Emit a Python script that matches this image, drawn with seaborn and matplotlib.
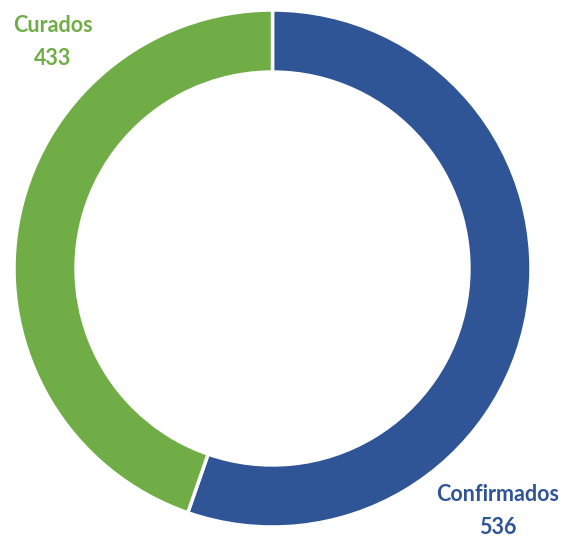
import seaborn as sns
import matplotlib.pyplot as plt

labels = ["Confirmados", "Curados"]
values = [536, 433]
colors = ["#2F5597", "#70AD47"]


def main():
  sns.set_theme(style="white")
  plt.rcParams['font.family'] = ['Lato', 'DejaVu Sans']

  fig = plt.figure(figsize=(5.64, 5.38), dpi=100)
  # axes box in pixels: ring spans x 14..531, y 10..527 (from top)
  ax = fig.add_axes([14 / 564, 11 / 538, 517 / 564, 517 / 538])
  ax.pie(values, colors=colors, startangle=90, counterclock=False,
         radius=1, wedgeprops=dict(width=0.24, edgecolor="white", linewidth=2.5))
  ax.set_xlim(-1, 1)
  ax.set_ylim(-1, 1)
  ax.set_aspect("equal")
  ax.axis("off")

  # labels placed in figure pixels
  fig.text(53 / 564, 1 - 42 / 538, f"{labels[1]}\n{values[1]}", color=colors[1],
           fontsize=15.5, fontweight="bold", ha="center", va="center", linespacing=1.7)
  fig.text(498 / 564, 1 - 511 / 538, f"{labels[0]}\n{values[0]}", color=colors[0],
           fontsize=15.5, fontweight="bold", ha="center", va="center", linespacing=1.7)

  fig.savefig("out.png", dpi=100)


if __name__ == '__main__':
  main()
